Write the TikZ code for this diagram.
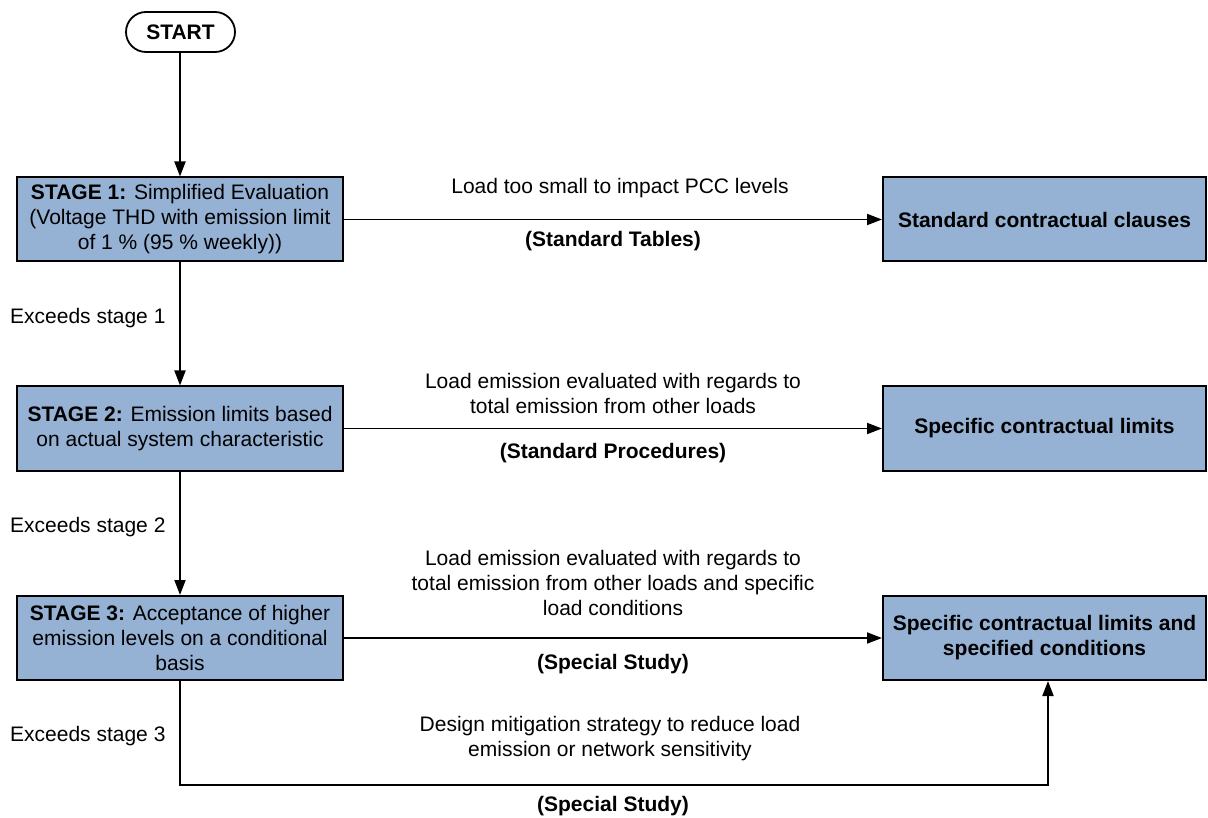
\documentclass[tikz,border=0pt]{standalone}
\usepackage{fontspec}
\setmainfont{Liberation Sans}
\usetikzlibrary{arrows.meta,shapes.misc}
\definecolor{boxblue}{HTML}{95B1D3}
\begin{document}
\begin{tikzpicture}[x=1pt,y=-1pt,
  every node/.style={font=\fontsize{21}{25}\selectfont},
  stagebox/.style={draw, line width=2pt, fill=boxblue, minimum width=326pt, minimum height=84pt, align=center, inner sep=0pt},
  resultbox/.style={draw, line width=2pt, fill=boxblue, minimum width=323pt, minimum height=84pt, align=center, inner sep=0pt, font=\fontsize{21}{25}\selectfont\bfseries},
  startbox/.style={draw, line width=1.8pt, rounded rectangle, minimum width=109pt, minimum height=40pt, inner sep=0pt, font=\fontsize{21}{25}\selectfont\bfseries},
  conn/.style={line width=1.9pt},
  arr/.style={conn, -{Triangle[length=15pt,width=11pt]}},
  lbl/.style={align=center, inner sep=0pt},
  blbl/.style={align=center, inner sep=0pt, font=\fontsize{21}{25}\selectfont\bfseries},
  sidelbl/.style={anchor=west, inner sep=0pt}
]
\useasboundingbox (0,0) rectangle (1208,818);

\node[startbox] (start) at (180.5,32) {START};

\node[stagebox] (s1) at (180,219.5) {\textbf{STAGE 1:} Simplified Evaluation\\(Voltage THD with emission limit\\of 1 \% (95 \% weekly))};
\node[stagebox] (s2) at (180,428.5) {\textbf{STAGE 2:} Emission limits based\\on actual system characteristic};
\node[stagebox] (s3) at (180,638) {\textbf{STAGE 3:} Acceptance of higher\\emission levels on a conditional\\basis};

\node[resultbox] (r1) at (1044.5,219.5) {Standard contractual clauses};
\node[resultbox] (r2) at (1044.5,428.5) {Specific contractual limits};
\node[resultbox] (r3) at (1044.5,638) {Specific contractual limits and\\specified conditions};

\node[sidelbl] (e1) at (10,318) {Exceeds stage 1};
\node[sidelbl] (e2) at (10,527) {Exceeds stage 2};
\node[sidelbl] (e3) at (10,736) {Exceeds stage 3};

\node[lbl] (t1) at (620,188) {Load too small to impact PCC levels};
\node[blbl] (b1) at (613,241) {(Standard Tables)};
\node[lbl] (t2) at (613,393) {Load emission evaluated with regards to\\total emission from other loads};
\node[blbl] (b2) at (613,453) {(Standard Procedures)};
\node[lbl] (t3) at (613,583) {Load emission evaluated with regards to\\total emission from other loads and specific\\load conditions};
\node[blbl] (b3) at (613,664) {(Special Study)};
\node[lbl] (t4) at (610,739) {Design mitigation strategy to reduce load\\emission or network sensitivity};
\node[blbl] (b4) at (613,806) {(Special Study)};

\coordinate (c1) at (180,785);
\coordinate (c2) at (1048,785);

\draw[arr] (start.south -| s1.north) -- (s1.north);
\draw[arr] (s1.south) -- (s2.north);
\draw[arr] (s2.south) -- (s3.north);
\draw[arr] (s1.east) -- (r1.west);
\draw[arr] (s2.east) -- (r2.west);
\draw[arr] (s3.east) -- (r3.west);
\draw[arr] (s3.south) -- (c1) -- (c2) -- (c2 |- r3.south);
\end{tikzpicture}
\end{document}
